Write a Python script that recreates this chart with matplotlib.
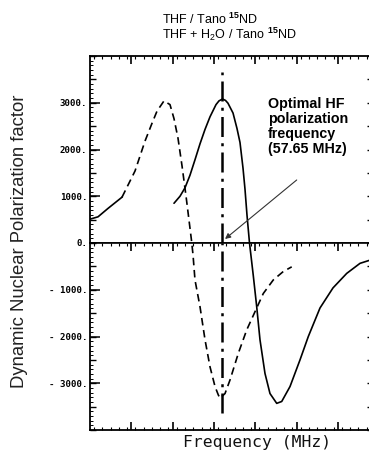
import numpy as np
import matplotlib
matplotlib.use("Agg")
import matplotlib.pyplot as plt
from matplotlib.ticker import FixedLocator, MultipleLocator, NullFormatter

plt.rcParams['mathtext.fontset'] = 'custom'
plt.rcParams['mathtext.rm'] = 'Liberation Sans'
plt.rcParams['mathtext.bf'] = 'Liberation Sans:bold'

# ---- data (MHz, DNP factor) ----
thf_freq = [57.5334, 57.5479, 57.5600, 57.5721, 57.5842, 57.5963, 57.6085, 57.6206,
            57.6351, 57.6423, 57.6508, 57.6581, 57.6641, 57.6763, 57.6859, 57.6932,
            57.7005, 57.7053, 57.7101, 57.7162, 57.7254, 57.7336, 57.7416, 57.7537,
            57.7658, 57.7821, 57.7942, 57.8143, 57.8385, 57.8586, 57.8869, 57.9184,
            57.9516, 57.9838, 58.0104]
thf_dnp = [850, 1000, 1180, 1450, 1780, 2120, 2430, 2700,
           2960, 3040, 3080, 3050, 2990, 2780, 2450, 2150,
           1600, 1150, 600, 0, -700, -1360, -2070, -2790,
           -3220, -3430, -3390, -3070, -2500, -2000, -1390, -960,
           -650, -435, -360]

h2o_freq = [57.3300, 57.3494, 57.3736, 57.4075, 57.4390, 57.4632, 57.4801, 57.4922,
            57.5092, 57.5237, 57.5334, 57.5431, 57.5528, 57.5624, 57.5697, 57.5758,
            57.5794, 57.5842, 57.5963, 57.6085, 57.6206, 57.6327, 57.6407, 57.6448,
            57.6569, 57.6690, 57.6891, 57.7094, 57.7295, 57.7496, 57.7738, 57.7980,
            57.8184]
h2o_dnp = [510, 560, 740, 980, 1540, 2180, 2560, 2820,
           3040, 2960, 2660, 2240, 1650, 1010, 490, 50,
           -250, -790, -1360, -2070, -2650, -3070, -3250, -3320,
           -3220, -2930, -2360, -1860, -1470, -1080, -790, -610,
           -510]
h2o_solid_points = 4  # first points of the H2O curve are drawn solid in the original

optimal_freq = 57.65
vline_top = 3660
vline_bottom = -3640

upper_ticks = [0, 1000, 2000, 3000]
upper_labels = ["0.", "1000.", "2000.", "3000."]
lower_ticks = [-1000, -2000, -3000]
lower_labels = ["- 1000.", "- 2000.", "- 3000."]
x_major = [57.43, 57.53, 57.63, 57.73, 57.83, 57.93]
x_minor_step = 0.02

legend_lines = [r"THF / Tano $^{\mathbf{15}}$ND",
                r"THF + H$_2$O / Tano $^{\mathbf{15}}$ND"]
annot_text = "Optimal HF\npolarization\nfrequency\n(57.65 MHz)"

# ---- figure ----
W, H = 369, 457
fig = plt.figure(figsize=(W / 100, H / 100), dpi=100)
fig.patch.set_facecolor('white')

right_px = 373
left = 90 / W
width = (right_px - 90) / W
ax_up = fig.add_axes([left, (H - 243) / H, width, (243 - 56) / H])
ax_lo = fig.add_axes([left, (H - 430) / H, width, (430 - 243) / H])

xlim = (57.33, 57.33 + (right_px - 90) * 0.1 / 41.3)
tick_font = dict(family='DejaVu Sans Mono', size=6.6, weight='bold')

for ax, ylim in ((ax_up, (0, 4000)), (ax_lo, (-4000, 0))):
    ax.set_xlim(*xlim)
    ax.set_ylim(*ylim)
    ax.plot(thf_freq, thf_dnp, color='black', lw=1.2, solid_capstyle='round')
    ax.plot(h2o_freq[:h2o_solid_points], h2o_dnp[:h2o_solid_points],
            color='black', lw=1.2)
    ax.plot(h2o_freq[h2o_solid_points - 1:], h2o_dnp[h2o_solid_points - 1:],
            color='black', lw=1.2, dashes=(4.5, 2.8))
    for s in ax.spines.values():
        s.set_linewidth(1.3)
    ax.spines['right'].set_visible(False)
    ax.xaxis.set_major_locator(FixedLocator(x_major))
    ax.xaxis.set_minor_locator(MultipleLocator(x_minor_step))
    ax.xaxis.set_major_formatter(NullFormatter())
    ax.yaxis.set_minor_locator(MultipleLocator(100))
    ax.tick_params(axis='x', which='major', direction='in', length=6, width=1.2)
    ax.tick_params(axis='x', which='minor', direction='in', length=2.5, width=0.8)
    ax.tick_params(axis='y', which='major', direction='in', length=7, width=1.1,
                   pad=2)
    ax.tick_params(axis='y', which='minor', direction='in', length=2.5, width=0.7)
    ax.tick_params(axis='y', which='both', right=False)
    # medium ticks every 500 on the left and right
    for side, length in (('left', 4.5), ('right', 4.5)):
        sec = ax.secondary_yaxis(side)
        sec.yaxis.set_major_locator(MultipleLocator(500))
        sec.yaxis.set_major_formatter(NullFormatter())
        sec.tick_params(direction='in', length=length, width=1.0)
        sec.spines[side].set_visible(False)

ax_up.tick_params(axis='x', which='both', top=True, bottom=False)
ax_lo.tick_params(axis='x', which='both', top=True, bottom=True)
ax_up.spines['bottom'].set_linewidth(1.2)
ax_lo.spines['top'].set_linewidth(1.2)

ax_up.set_yticks(upper_ticks)
ax_up.set_yticklabels(upper_labels, **tick_font)
ax_lo.set_yticks(lower_ticks)
ax_lo.set_yticklabels(lower_labels, **tick_font)

# optimal frequency dash-dot line
ax_up.axvline(optimal_freq, ymin=0, ymax=vline_top / 4000, color='black', lw=1.8,
              dashes=(8, 2.5, 1.2, 2.5))
ax_lo.axvline(optimal_freq, ymin=(4000 + vline_bottom) / 4000, ymax=1, color='black',
              lw=1.8, dashes=(8, 2.5, 1.2, 2.5))

# annotation
ax_up.annotate('', xy=(optimal_freq + 0.007, 86), xytext=(57.8305, 1348),
               arrowprops=dict(arrowstyle='-|>', lw=0.8, color='#333333',
                               mutation_scale=8, shrinkA=0, shrinkB=0))
fig.text(268 / W, 1 - 97 / H, annot_text, ha='left', va='top',
         family='Liberation Sans', weight='bold', size=10.3, linespacing=1.1)

# legend text
fig.text(162 / W, 1 - 19 / H, legend_lines[0], ha='left', va='center',
         family='Liberation Sans', size=9.0)
fig.text(162 / W, 1 - 34 / H, legend_lines[1], ha='left', va='center',
         family='Liberation Sans', size=9.0)

# axis labels
fig.text(20 / W, 1 - 241 / H, "Dynamic Nuclear Polarization factor", rotation=90,
         ha='center', va='center', family='Liberation Sans', size=13.3,
         color='#222222')
fig.text(257 / W, 1 - 442 / H, "Frequency (MHz)", ha='center', va='center',
         family='DejaVu Sans Mono', size=11.8, color='#111111')

fig.savefig('out.png', dpi=100, facecolor='white')
